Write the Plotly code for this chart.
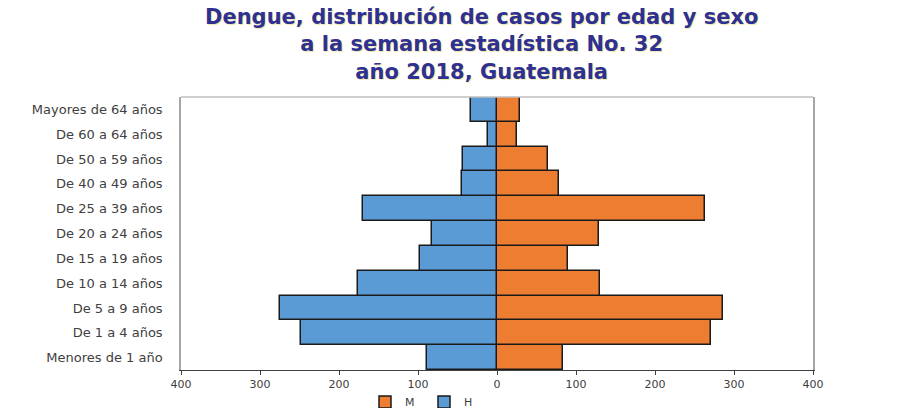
import plotly.graph_objects as go

categorias = ["Menores de 1 año", "De 1 a 4 años", "De 5 a 9 años", "De 10 a 14 años",
              "De 15 a 19 años", "De 20 a 24 años", "De 25 a 39 años", "De 40 a 49 años",
              "De 50 a 59 años", "De 60 a 64 años", "Mayores de 64 años"]
mujeres = [84, 271, 286, 131, 90, 129, 263, 79, 65, 25, 29]
hombres = [88, 248, 275, 176, 97, 82, 170, 44, 43, 11, 33]
tick_vals = [-400, -300, -200, -100, 0, 100, 200, 300, 400]
tick_text = ["400", "300", "200", "100", "0", "100", "200", "300", "400"]
titulo = ("Dengue, distribución de casos por edad y sexo<br>"
          "a la semana estadística No. 32<br>"
          "año 2018, Guatemala")

fig = go.Figure()
fig.add_trace(go.Bar(y=categorias, x=mujeres, name="M", orientation="h",
                     marker=dict(color="#ED7D31", line=dict(color="#1a1a1a", width=1.5))))
fig.add_trace(go.Bar(y=categorias, x=[-v for v in hombres], name="H", orientation="h",
                     marker=dict(color="#5B9BD5", line=dict(color="#1a1a1a", width=1.5))))

fig.add_annotation(text=titulo, xref="paper", yref="paper",
                   x=(481 - 181) / 632, y=(370 - 43) / 274,
                   xanchor="center", yanchor="middle", showarrow=False,
                   font=dict(family="DejaVu Sans", size=21, color="#2E3192", weight="bold",
                             shadow="1px 1px 1px #EEE6A8"))

# light gray top border of the plot area
fig.add_shape(type="line", xref="paper", yref="paper", x0=0, x1=1, y0=1, y1=1,
              line=dict(color="#BFBFBF", width=1.5))

fig.update_layout(
    width=905, height=408,
    barmode="overlay", bargap=0,
    paper_bgcolor="white", plot_bgcolor="white",
    margin=dict(l=181, r=92, t=97, b=38),
    showlegend=True,
    xaxis=dict(range=[-400, 400], tickvals=tick_vals, ticktext=tick_text,
               showgrid=False, zeroline=False, showline=True, linecolor="#404040", linewidth=1.2,
               mirror=False, ticks="outside", ticklen=4, tickcolor="#404040",
               automargin=False,
               tickfont=dict(family="DejaVu Sans", size=11, color="#404040")),
    yaxis=dict(showgrid=False, zeroline=False, showline=True, linecolor="#A6A6A6", linewidth=1.5,
               mirror=True, ticks="", ticklabelstandoff=14, automargin=False,
               tickfont=dict(family="DejaVu Sans", size=13, color="#404040")),
    legend=dict(orientation="h", x=365 / 905, xanchor="left", xref="container",
                y=(408 - 402) / 408, yanchor="middle", yref="container",
                font=dict(family="DejaVu Sans", size=11, color="#404040"),
                traceorder="normal", itemwidth=30, entrywidth=14, entrywidthmode="pixels"),
)

fig.write_html("out.html", config={"displayModeBar": False},
               post_script="document.body.style.margin='0';")
